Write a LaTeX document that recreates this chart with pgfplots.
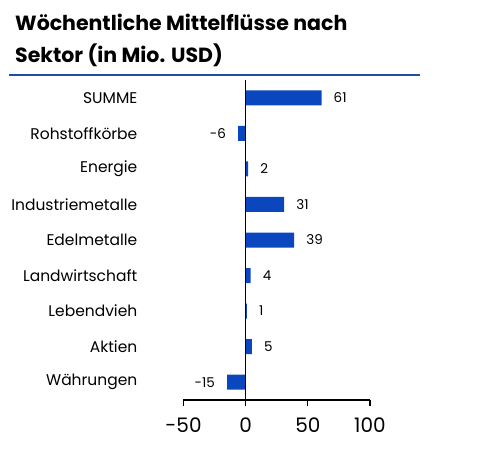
\documentclass[border=0pt]{standalone}
\usepackage{fontspec}
\setmainfont{Poppins}
\usepackage{pgfplots}
\pgfplotsset{compat=1.18}
\definecolor{barblue}{HTML}{0A46BE}
\definecolor{lineblue}{HTML}{1F4F9E}

\begin{document}
\begin{tikzpicture}[x=1pt,y=1pt]
	% canvas 480 x 453 (y measured upwards)
	\path (0,0) rectangle (480,453);
	\node[anchor=base west, inner sep=0pt, font=\bfseries\fontsize{20.5}{24}\selectfont] at (15,422) {Wöchentliche Mittelflüsse nach};
	\node[anchor=base west, inner sep=0pt, font=\bfseries\fontsize{20.5}{24}\selectfont] at (15,390) {Sektor (in Mio. USD)};
	\draw[lineblue, line width=1.4pt] (9,378) -- (420,378);
	\begin{axis}[
			at={(183.5pt,53pt)},
			anchor=south west,
			scale only axis,
			width=186.5pt,
			height=320pt,
			xbar,
			bar width=15pt,
			xmin=-50, xmax=100,
			ymin=-0.5, ymax=8.5,
			y dir=reverse,
			xtick={-50,0,50,100},
			ytick={0,...,8},
			yticklabels={SUMME, Rohstoffkörbe, Energie, Industriemetalle, Edelmetalle, Landwirtschaft, Lebendvieh, Aktien, Währungen},
			axis x line*=bottom,
			axis y line*=left,
			y axis line style={draw=none},
			ytick style={draw=none},
			x axis line style={line width=1.2pt, -},
			xtick style={line width=1.2pt, black},
			tick align=outside,
			major tick length=6pt,
			/pgf/number format/assume math mode=true,
			xticklabel style={font=\fontsize{20}{24}\selectfont},
			xticklabel shift=8pt,
			yticklabel style={font=\fontsize{15.5}{18}\selectfont, anchor=east, inner sep=0pt, xshift=-40pt},
			nodes near coords,
			nodes near coords align={horizontal},
			every node near coord/.append style={font=\fontsize{13.5}{16}\selectfont, black, inner xsep=12pt},
		]
		\addplot[fill=barblue, draw=none] coordinates {
			(61,0)
			(-6,1)
			(2,2)
			(31,3)
			(39,4)
			(4,5)
			(1,6)
			(5,7)
			(-15,8)
		};
		\draw[black, line width=1.2pt] (axis cs:0,-0.5) -- (axis cs:0,8.5);
	\end{axis}
\end{tikzpicture}
\end{document}
